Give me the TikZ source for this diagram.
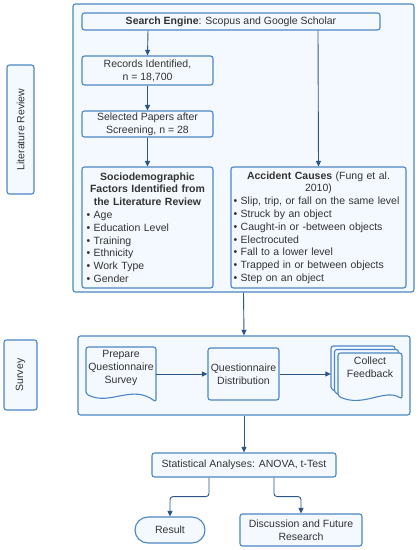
\documentclass[tikz,border=0pt]{standalone}
\usepackage{fontspec}
\setmainfont{Liberation Sans}
\usetikzlibrary{arrows.meta}

\begin{document}
\begin{tikzpicture}[x=1pt,y=-1pt,
  every node/.style={font=\fontsize{10.5}{12.8}\selectfont,text=textColor},
  box/.style={draw=lineColor,fill=fillColor,line width=1.1pt,rounded corners=2.5pt,inner sep=0pt,align=center},
  docshape/.style={draw=lineColor,fill=fillColor,line width=1.1pt,rounded corners=2.5pt},
  arr/.style={draw=arrowColor,line width=0.9pt,-{Triangle[length=5.5pt,width=5pt]}}]
\definecolor{lineColor}{RGB}{76,135,196}
\definecolor{fillColor}{RGB}{244,249,255}
\definecolor{arrowColor}{RGB}{45,85,135}
\definecolor{textColor}{RGB}{51,51,51}
\path[use as bounding box,fill=white] (0,0) rectangle (418,550);

% literature review
\node[box,minimum width=27pt,minimum height=129pt] (litlabel) at (20.5,129.5) {};
\node[rotate=90] (littext) at (litlabel) {Literature Review};
\node[box,minimum width=341pt,minimum height=288pt] (litframe) at (243.5,148) {};
\node[box,minimum width=298pt,minimum height=17pt] (search) at (231,21.5) {\textbf{Search Engine}: Scopus and Google Scholar};
\node[box,minimum width=131pt,minimum height=29pt] (records) at (147.5,70.5) {Records Identified,\\n = 18,700};
\node[box,minimum width=131pt,minimum height=26pt] (selected) at (147.5,124) {Selected Papers after\\Screening, n = 28};
\node[box,minimum width=131pt,minimum height=121pt,text width=122pt,align=left] (socio) at (147.5,227.5)
  {{\centering\textbf{Sociodemographic}\\\textbf{Factors Identified from}\\\textbf{the Literature Review}\par}
   \textbullet{} Age\\\textbullet{} Education Level\\\textbullet{} Training\\\textbullet{} Ethnicity\\\textbullet{} Work Type\\\textbullet{} Gender};
\node[box,minimum width=175pt,minimum height=121pt,text width=170pt,align=left] (causes) at (318.5,227.5)
  {{\centering\textbf{Accident Causes} (Fung et al.\\2010)\par}
   \textbullet{} Slip, trip, or fall on the same level\\\textbullet{} Struck by an object\\\textbullet{} Caught-in or -between objects\\\textbullet{} Electrocuted\\\textbullet{} Fall to a lower level\\\textbullet{} Trapped in or between objects\\\textbullet{} Step on an object};

\draw[arr] ([xshift=-83pt]search.south) -- (records.north);
\draw[arr] (records) -- (selected);
\draw[arr] (selected) -- (socio);
\draw[arr] ([xshift=87pt]search.south) -- (causes.north);

% survey
\node[box,minimum width=33pt,minimum height=70pt] (surveylabel) at (20.5,375) {};
\node[rotate=90] (surveytext) at (surveylabel) {Survey};
\node[box,minimum width=332pt,minimum height=79pt] (surveyframe) at (244,375.5) {};
\draw[arr] (litframe.south) -- (surveyframe.north);

\path[docshape] (86,394) -- (86,347) -- (156,347) -- (156,402) .. controls (132,384) and (110,406) .. cycle;
\node[minimum width=70pt,minimum height=55pt] (prepare) at (121,374) {};
\node[align=center] (preparetxt) at (121,368) {Prepare\\Questionnaire\\Survey};

\node[box,minimum width=71pt,minimum height=52pt] (distrib) at (243.5,374) {Questionnaire\\Distribution};

\foreach \d in {0,3.5,7}
  \path[docshape,shift={(\d,\d)}] (331,389) -- (331,346) -- (395,346) -- (395,392) .. controls (378,381) and (356,401) .. cycle;
\node[minimum width=71pt,minimum height=53pt] (feedback) at (366.5,374) {};
\node[align=center] (feedbacktxt) at (370,367) {Collect\\Feedback};

\draw[arr] (prepare.east) -- (distrib.west);
\draw[arr] (distrib.east) -- (feedback.west);

% analysis
\node[box,minimum width=184pt,minimum height=24pt] (stats) at (244,465) {Statistical Analyses: ANOVA, t-Test};
\node[box,minimum width=70pt,minimum height=26pt,rounded corners=13pt] (result) at (170,530) {Result};
\node[box,minimum width=122pt,minimum height=32pt] (discuss) at (301,530) {Discussion and Future\\Research};
\draw[arr] (surveyframe.south) -- (stats.north);
\draw[arr,rounded corners=3pt] ([xshift=-35pt]stats.south) -- ++(0,19) -| (result.north);
\draw[arr,rounded corners=3pt] ([xshift=30pt]stats.south) -- ++(0,19) -| (discuss.north);
\end{tikzpicture}
\end{document}
